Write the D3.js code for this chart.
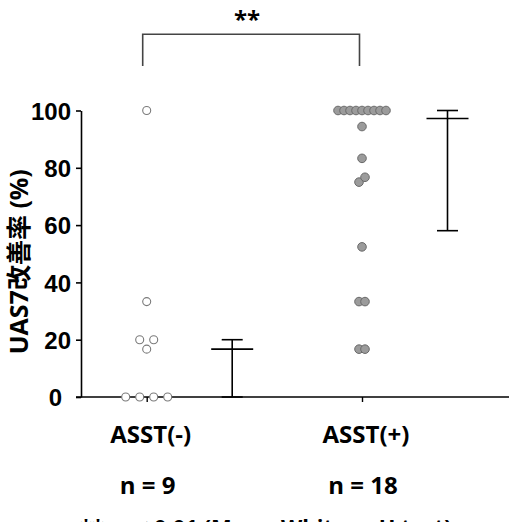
<!DOCTYPE html>
<html>
<head>
<meta charset="utf-8">
<script src="https://cdn.jsdelivr.net/npm/d3@7"></script>
<style>
  body { margin: 0; background: #fff; }
  svg { display: block; font-family: "Open Sans", "Noto Sans CJK JP", sans-serif; }
</style>
</head>
<body>
<svg id="chart" width="509" height="522"></svg>
<script>
const width = 509, height = 522;

// data
const groups = ["ASST(-)", "ASST(+)"];
const counts = ["n = 9", "n = 18"];
const asstNeg = [0, 0, 0, 0, 16.7, 20, 20, 33.3, 100];
const asstPos = [16.7, 16.7, 33.3, 33.3, 52.4, 75, 76.7, 83.3, 94.4, 100, 100, 100, 100, 100, 100, 100, 100, 100];
const yTicks = [0, 20, 40, 60, 80, 100];
const yTitle = "UAS7改善率 (%)";
const sigLabel = "**";
const footNote = "**: p < 0.01 (Mann-Whitney U test)";

const svg = d3.select("#chart");

const y = d3.scaleLinear().domain([0, 100]).range([397, 110.5]);
const x = d3.scalePoint().domain(groups).range([146.7, 362]);
const barOffset = 85.5;

// y axis
const yAxis = svg.append("g")
  .attr("transform", "translate(81,0)")
  .call(d3.axisLeft(y).tickValues(yTicks).tickSize(5).tickSizeOuter(0).tickPadding(5));
yAxis.select(".domain").attr("stroke-width", 1.6);
yAxis.selectAll(".tick line").attr("stroke-width", 1.6);
yAxis.selectAll(".tick text")
  .attr("font-size", 24).attr("font-weight", "bold").attr("fill", "#000")
  .attr("dy", "0.36em")
  .attr("dx", d => d === 0 ? -9 : 0);

// x axis: line runs to the right edge, ticks only at the groups
svg.append("line")
  .attr("x1", 76).attr("x2", width)
  .attr("y1", y(0)).attr("y2", y(0))
  .attr("stroke", "#000").attr("stroke-width", 1.6);

const xAxis = svg.append("g")
  .attr("transform", `translate(0,${y(0)})`)
  .call(d3.axisBottom(x).tickSize(5).tickSizeOuter(0).tickFormat(""));
xAxis.select(".domain").remove();
xAxis.selectAll(".tick line").attr("stroke-width", 1.4);

svg.selectAll(".glabel")
  .data(groups)
  .join("text")
  .attr("class", "glabel")
  .attr("x", d => x(d) + 4)
  .attr("y", 443)
  .attr("text-anchor", "middle")
  .attr("font-size", 24).attr("font-weight", "bold")
  .text(d => d);

svg.selectAll(".nlabel")
  .data(counts)
  .join("text")
  .attr("class", "nlabel")
  .attr("x", (d, i) => x(groups[i]) + 1)
  .attr("y", 494)
  .attr("text-anchor", "middle")
  .attr("font-size", 24).attr("font-weight", "bold")
  .text(d => d);

// y title
svg.append("text")
  .attr("transform", `translate(28,${(y(0) + y(100)) / 2 + 8}) rotate(-90)`)
  .attr("text-anchor", "middle")
  .attr("font-size", 25).attr("font-weight", "bold")
  .text(yTitle);

// spread points that sit (almost) on the same row
function swarm(values, spacing, r) {
  const sorted = values.slice().sort((a, b) => a - b);
  const rows = [];
  sorted.forEach(v => {
    const last = rows[rows.length - 1];
    if (last && Math.abs(y(v) - y(last[0])) < 2 * r) last.push(v);
    else rows.push([v]);
  });
  const out = [];
  rows.forEach(row => {
    row.forEach((v, i) => out.push({ v, dx: (i - (row.length - 1) / 2) * spacing }));
  });
  return out;
}

svg.append("g").selectAll("circle")
  .data(swarm(asstNeg, 14, 4))
  .join("circle")
  .attr("cx", d => x(groups[0]) + d.dx)
  .attr("cy", d => y(d.v))
  .attr("r", 4)
  .attr("fill", "#fff")
  .attr("stroke", "#7a7a7a").attr("stroke-width", 1.1);

svg.append("g").selectAll("circle")
  .data(swarm(asstPos, 6, 4.3))
  .join("circle")
  .attr("cx", d => x(groups[1]) + d.dx)
  .attr("cy", d => y(d.v))
  .attr("r", 4.3)
  .attr("fill", "#9b9b9b")
  .attr("stroke", "#6a6a6a").attr("stroke-width", 1);

// median with interquartile range
[asstNeg, asstPos].forEach((vals, i) => {
  const s = vals.slice().sort(d3.ascending);
  const q1 = d3.quantile(s, 0.25), med = d3.quantile(s, 0.5), q3 = d3.quantile(s, 0.75);
  const cx = x(groups[i]) + barOffset;
  const g = svg.append("g").attr("stroke", "#000").attr("stroke-width", 1.6);
  g.append("line").attr("x1", cx).attr("x2", cx).attr("y1", y(q1)).attr("y2", y(q3));
  g.append("line").attr("x1", cx - 10.5).attr("x2", cx + 10.5).attr("y1", y(q3)).attr("y2", y(q3));
  g.append("line").attr("x1", cx - 10.5).attr("x2", cx + 10.5).attr("y1", y(q1)).attr("y2", y(q1));
  g.append("line").attr("x1", cx - 21).attr("x2", cx + 21).attr("y1", y(med)).attr("y2", y(med));
});

// significance bracket
const bx0 = x(groups[0]) - 4, bx1 = x(groups[1]) - 2.5;
svg.append("path")
  .attr("d", `M${bx0},66 V34.3 H${bx1} V66`)
  .attr("fill", "none").attr("stroke", "#444").attr("stroke-width", 1.6);
svg.append("text")
  .attr("x", (bx0 + bx1) / 2 - 4)
  .attr("y", 28)
  .attr("text-anchor", "middle")
  .attr("font-size", 24).attr("font-weight", "bold")
  .attr("letter-spacing", 0)
  .text(sigLabel);

// footnote, cut off by the bottom edge as in the source picture
svg.append("text")
  .attr("x", 80).attr("y", 535)
  .attr("font-size", 22).attr("font-weight", "bold")
  .text(footNote);
</script>
</body>
</html>
